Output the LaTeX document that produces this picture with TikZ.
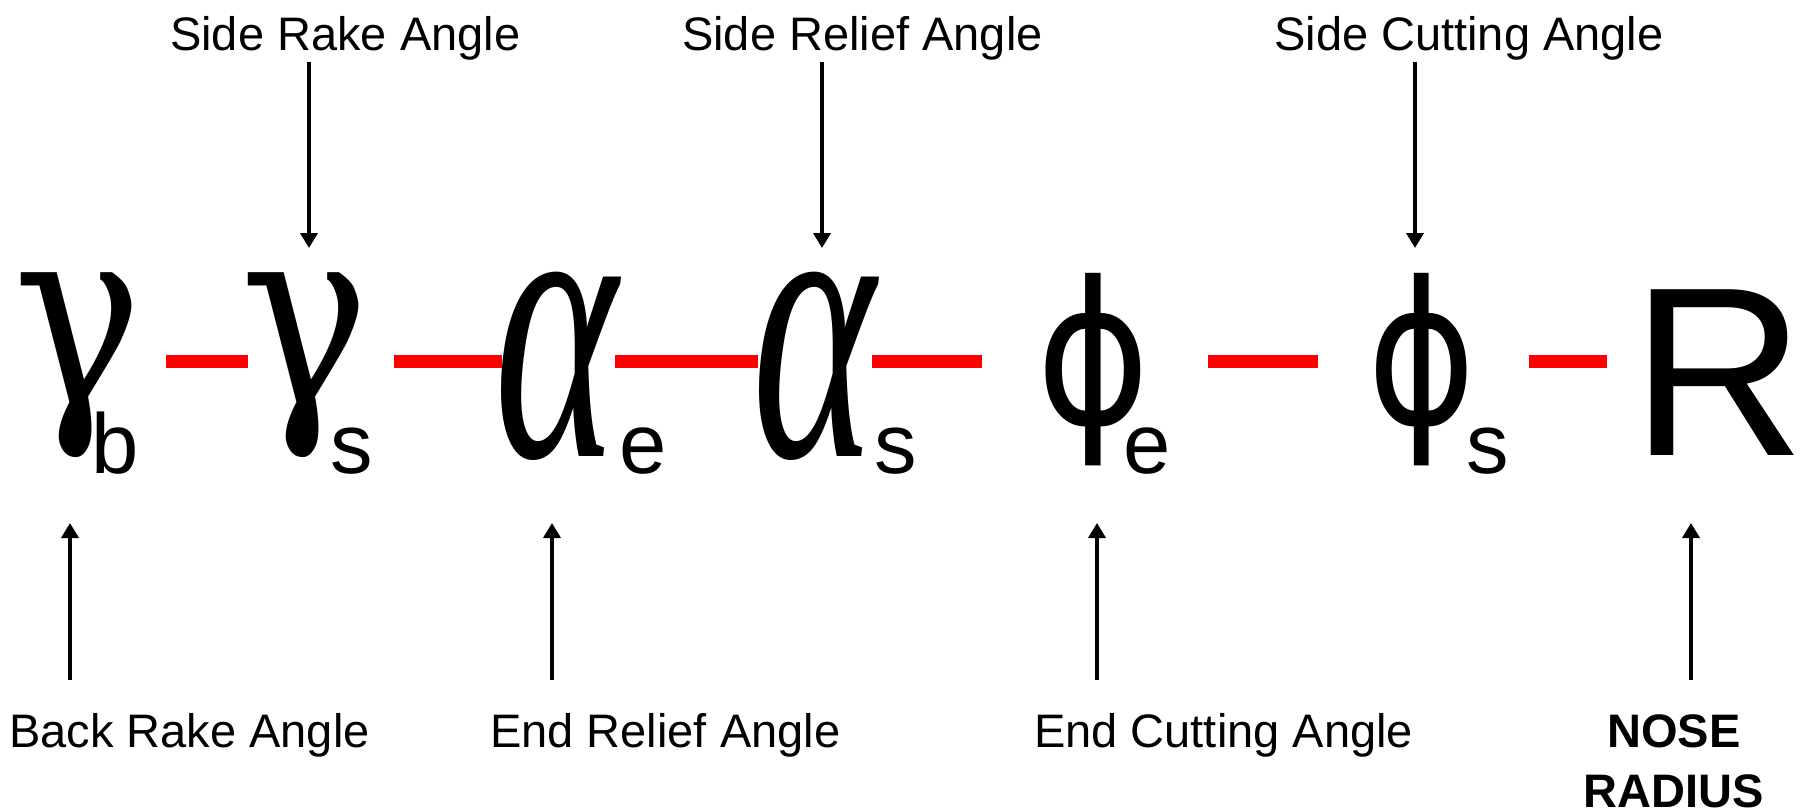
\documentclass[tikz,border=0pt]{standalone}
\usepackage{graphicx}
\usepackage{fontspec}
\setmainfont{Liberation Sans}
\newfontfamily\gammafont{DejaVu Serif}
\newfontfamily\alphafont{Liberation Serif}
\newfontfamily\phifont{DejaVu Sans}
\usetikzlibrary{arrows.meta,positioning}

\begin{document}
\begin{tikzpicture}[
  x=1pt, y=-1pt,
  >=Triangle,
  angle/.style={inner sep=0pt, font=\fontsize{47}{64}\selectfont},
  nose/.style={angle, font=\fontsize{47}{60}\selectfont\bfseries, align=center},
  glyph/.style={inner sep=0pt, anchor=base},
  subscript/.style={inner sep=0pt, anchor=base west, font=\fontsize{85}{85}\selectfont},
  pointer/.style={-{Triangle[length=15pt,width=17pt]}, line width=3.6pt},
  link/.style={draw=red, line width=13pt}
]
  \useasboundingbox (0,0) rectangle (1806,808);

  \node[glyph] (gb) at (78,404) {\scalebox{0.85}[1]{\gammafont\fontsize{254}{254}\selectfont γ}};
  \node[subscript] (gbs) at (91,473) {b};
  \node[glyph] (gs) at (305,404) {\scalebox{0.85}[1]{\gammafont\fontsize{254}{254}\selectfont γ}};
  \node[subscript] (gss) at (330,473) {s};
  \node[glyph] (ae) at (556.5,456) {\scalebox{0.6}[1]{\alphafont\itshape\fontsize{391}{391}\selectfont α}};
  \node[subscript] (aes) at (619,473) {e};
  \node[glyph] (as) at (814,456) {\scalebox{0.6}[1]{\alphafont\itshape\fontsize{391}{391}\selectfont α}};
  \node[subscript] (ass) at (874,473) {s};
  \node[glyph] (pe) at (1094,424) {\scalebox{0.87}[1]{\phifont\fontsize{199}{199}\selectfont ϕ}};
  \node[subscript] (pes) at (1123,473) {e};
  \node[glyph] (ps) at (1422,424) {\scalebox{0.83}[1]{\phifont\fontsize{199}{199}\selectfont ϕ}};
  \node[subscript] (pss) at (1466,473) {s};
  \node[glyph, font=\fontsize{241}{241}\selectfont] (nr) at (1718,455) {R};

  \node[angle, anchor=base west] (srl) at (170,51) {Side Rake Angle};
  \node[angle, anchor=base west] (sfl) at (682,51) {Side Relief Angle};
  \node[angle, anchor=base west] (scl) at (1274,51) {Side Cutting Angle};
  \node[angle, anchor=base west] (brl) at (9,747) {Back Rake Angle};
  \node[angle, anchor=base west] (erl) at (490,747) {End Relief Angle};
  \node[angle, anchor=base west] (ecl) at (1034,747) {End Cutting Angle};
  \node[nose, anchor=base] (nrl) at (1674,807) {NOSE\\RADIUS};

  \coordinate (axis) at (0,361.5);
  \coordinate (srfoot) at ([xshift=139pt,yshift=-11pt]srl.base west);
  \coordinate (sffoot) at ([xshift=140pt,yshift=-11pt]sfl.base west);
  \coordinate (scfoot) at ([xshift=141pt,yshift=-11pt]scl.base west);
  \coordinate (brfoot) at ([xshift=61pt,yshift=67pt]brl.base west);
  \coordinate (erfoot) at ([xshift=62pt,yshift=67pt]erl.base west);
  \coordinate (ecfoot) at ([xshift=63pt,yshift=67pt]ecl.base west);
  \coordinate (nrfoot) at ([xshift=17pt,yshift=127pt]nrl.base);

  \draw[link, shorten <=88pt, shorten >=57pt] (gb.center |- axis) -- (gs.center |- axis);
  \draw[link, shorten <=89pt, shorten >=54.5pt] (gs.center |- axis) -- (ae.center |- axis);
  \draw[link, shorten <=58.5pt, shorten >=56pt] (ae.center |- axis) -- (as.center |- axis);
  \draw[link, shorten <=58pt, shorten >=112pt] (as.center |- axis) -- (pe.center |- axis);
  \draw[link, shorten <=114pt, shorten >=104pt] (pe.center |- axis) -- (ps.center |- axis);
  \draw[link, shorten <=107pt, shorten >=111pt] (ps.center |- axis) -- (nr.center |- axis);

  \draw[pointer, shorten >=156pt] (srfoot) -- (srfoot |- gs.base);
  \draw[pointer, shorten >=208pt] (sffoot) -- (sffoot |- as.base);
  \draw[pointer, shorten >=176pt] (scfoot) -- (scfoot |- ps.base);
  \draw[pointer, shorten >=119pt] (brfoot) -- (brfoot |- gb.base);
  \draw[pointer, shorten >=67pt] (erfoot) -- (erfoot |- ae.base);
  \draw[pointer, shorten >=99pt] (ecfoot) -- (ecfoot |- pe.base);
  \draw[pointer, shorten >=68pt] (nrfoot) -- (nrfoot |- nr.base);
\end{tikzpicture}
\end{document}
